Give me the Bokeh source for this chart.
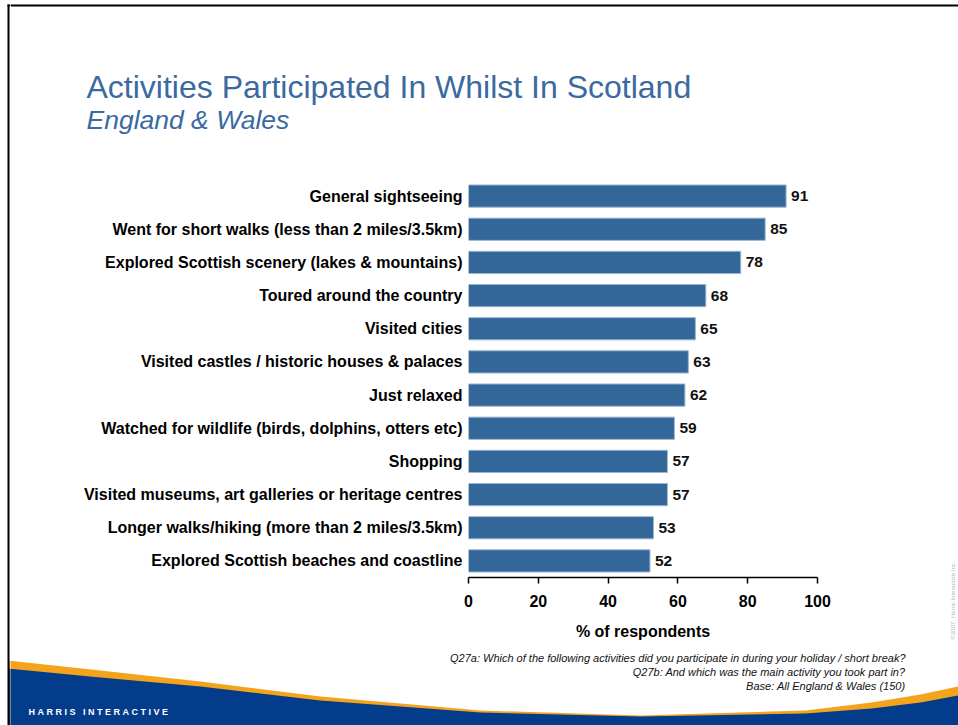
import math
from bokeh.plotting import figure
from bokeh.layouts import row, column
from bokeh.models import FactorRange, Range1d, ColumnDataSource, FixedTicker
from bokeh.core.properties import value
from bokeh.embed import file_html
from bokeh.resources import INLINE

activities = [
    "General sightseeing",
    "Went for short walks (less than 2 miles/3.5km)",
    "Explored Scottish scenery (lakes & mountains)",
    "Toured around the country",
    "Visited cities",
    "Visited castles / historic houses & palaces",
    "Just relaxed",
    "Watched for wildlife (birds, dolphins, otters etc)",
    "Shopping",
    "Visited museums, art galleries or heritage centres",
    "Longer walks/hiking (more than 2 miles/3.5km)",
    "Explored Scottish beaches and coastline",
]
percent = [91, 85, 78, 68, 65, 63, 62, 59, 57, 57, 53, 52]
x_ticks = [0, 20, 40, 60, 80, 100]

title_text = "Activities Participated In Whilst In Scotland"
subtitle_text = "England & Wales"
x_label = "% of respondents"
notes = [
    "Q27a: Which of the following activities did you participate in during your holiday / short break?",
    "Q27b: And which was the main activity you took part in?",
    "Base: All England & Wales (150)",
]
brand = "HARRIS INTERACTIVE"
copyright_text = "\u00a92007, Harris Interactive Inc."

FONT = "Liberation Sans"
BAR = "#336699"
TITLE_C = "#3a6a9f"
NAVY = "#023c8a"
ORANGE = "#f4a41c"

W, H = 958, 725
LEFT_STRIP = 10          # page x where the central column starts
RIGHT_STRIP = 938        # page x where the chart's right strip starts
TOP_H = 179              # height of the title band
FOOT_Y = 645             # page y where the footer band starts
FRAME_L, FRAME_R, FRAME_B = 468, 817, 577


def deco_fig(x0, x1, y0, y1):
    """A blank figure whose data coordinates are page pixels (top-left origin)."""
    f = figure(width=x1 - x0, height=y1 - y0, x_range=Range1d(x0, x1),
               y_range=Range1d(y1, y0), x_axis_type=None, y_axis_type=None,
               output_backend="svg", toolbar_location=None, frame_align=False,
               min_border=0, min_border_left=0, min_border_right=0,
               min_border_top=0, min_border_bottom=0)
    f.outline_line_color = None
    f.background_fill_color = "white"
    f.border_fill_color = "white"
    return f


# decorative banner outlines (page pixels)
orange_top = [(8, 660), (100, 670), (200, 681), (320, 696), (480, 710), (640, 715),
              (805, 710), (871, 702), (920, 694), (958, 686)]
blue_top = [(8, 668), (100, 677), (200, 686), (320, 700), (480, 712), (640, 716),
            (805, 713), (871, 708), (920, 702), (958, 695)]


def draw_banner(f):
    for pts, color in ((orange_top, ORANGE), (blue_top, NAVY)):
        xs = [pt[0] for pt in pts] + [W, 8]
        ys = [pt[1] for pt in pts] + [H, H]
        f.patch(xs, ys, fill_color=color, line_color=None)


def top_line(f, x0, x1):
    f.quad(left=[x0], right=[x1], top=[4], bottom=[6], fill_color="black", line_color=None)


def txt(f, x, y, text, size, color="black", style="normal", align="left",
        baseline="middle", angle=0.0):
    f.text(x=[x], y=[y], text=[text], text_font=value(FONT), text_font_size=size,
           text_color=color, text_font_style=style, text_align=align,
           text_baseline=baseline, angle=angle)


# ---- title band ----
top = deco_fig(LEFT_STRIP, W, 0, TOP_H)
top_line(top, LEFT_STRIP, W)
txt(top, 86, 86, title_text, "32px", TITLE_C, baseline="alphabetic")
txt(top, 86, 119, subtitle_text, "26.5px", TITLE_C, style="italic", baseline="alphabetic")

# ---- main chart ----
src = ColumnDataSource(dict(activity=activities, percent=percent,
                            label=[str(v) for v in percent]))

p = figure(width=RIGHT_STRIP - LEFT_STRIP, height=FOOT_Y - TOP_H,
           x_range=Range1d(0, 100), y_range=FactorRange(factors=activities[::-1]),
           output_backend="svg", toolbar_location=None, frame_align=False,
           min_border_left=FRAME_L - LEFT_STRIP, min_border_right=RIGHT_STRIP - FRAME_R,
           min_border_top=0, min_border_bottom=FOOT_Y - FRAME_B)
p.outline_line_color = None
p.background_fill_color = "white"
p.border_fill_color = "white"
p.xgrid.visible = False
p.ygrid.visible = False

p.hbar(y="activity", right="percent", left=0, height=0.67, source=src,
       fill_color=BAR, line_color="#9bb6d3", line_width=1)
p.text(x="percent", y="activity", text="label", source=src, x_offset=5,
       text_baseline="middle", text_align="left", text_font=value(FONT),
       text_font_style="bold", text_font_size="15.5px", text_color="#111111")

xa = p.xaxis[0]
xa.ticker = FixedTicker(ticks=x_ticks)
xa.axis_line_color = "black"
xa.axis_line_width = 1.5
xa.major_tick_line_color = "black"
xa.major_tick_line_width = 1.5
xa.major_tick_out = 6
xa.major_tick_in = 0
xa.minor_tick_line_color = None
xa.major_label_text_font = FONT
xa.major_label_text_font_style = "bold"
xa.major_label_text_font_size = "16px"
xa.major_label_text_color = "black"
xa.major_label_standoff = 11
xa.axis_label = x_label
xa.axis_label_text_font = FONT
xa.axis_label_text_font_style = "bold"
xa.axis_label_text_font_size = "16px"
xa.axis_label_text_color = "black"
xa.axis_label_standoff = 13

ya = p.yaxis[0]
ya.axis_line_color = None
ya.major_tick_line_color = None
ya.minor_tick_line_color = None
ya.major_label_standoff = 0
ya.major_label_text_font = FONT
ya.major_label_text_font_style = "bold"
ya.major_label_text_font_size = "16px"
ya.major_label_text_color = "black"

# narrow strip right of the chart, carrying the vertical copyright mark
mid = deco_fig(RIGHT_STRIP, W, TOP_H, FOOT_Y)
txt(mid, 952, 600, copyright_text, "6px", "#b8b8b8", align="center", angle=math.pi / 2)

# ---- footer band ----
foot = deco_fig(LEFT_STRIP, W, FOOT_Y, H)
draw_banner(foot)
for i, t in enumerate(notes):
    txt(foot, 905, 657 + 14 * i, t, "11px", "#111111", style="italic", align="right")
brand_spaced = "\u00a0\u00a0\u00a0".join("\u00a0".join(w) for w in brand.split(" "))
txt(foot, 28, 711, brand_spaced, "9px", "white", style="bold")

# ---- left strip with the slide's frame line ----
lstrip = deco_fig(0, LEFT_STRIP, 0, H)
draw_banner(lstrip)
lstrip.quad(left=[7], right=[9], top=[4], bottom=[H], fill_color="black", line_color=None)
top_line(lstrip, 7, LEFT_STRIP)

layout = row(lstrip, column(top, row(p, mid, spacing=0), foot, spacing=0), spacing=0)
open("out.html", "w").write(file_html(layout, INLINE))
